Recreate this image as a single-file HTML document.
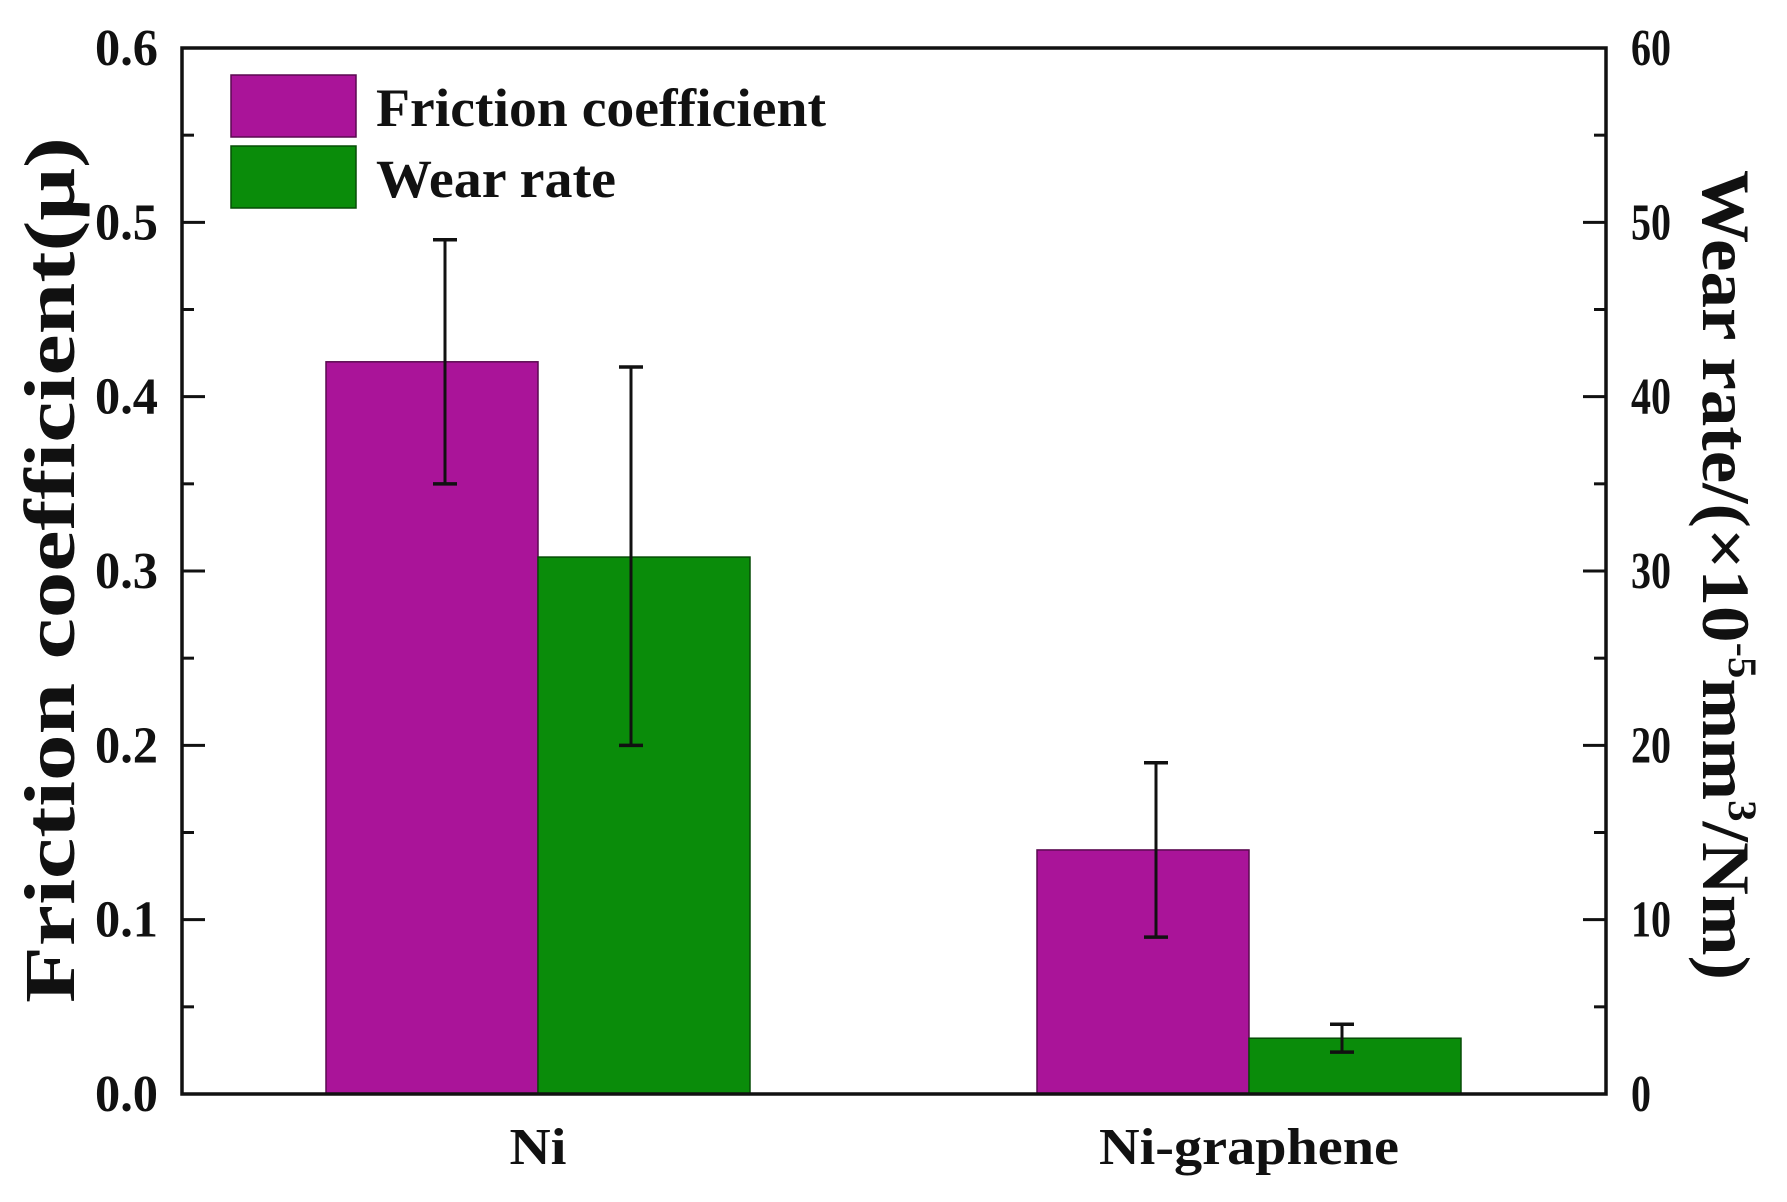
<!DOCTYPE html>
<html><head><meta charset="utf-8"><style>
html,body{margin:0;padding:0;background:#fff;}
body{position:relative;}
svg{display:block;font-family:"Liberation Serif",serif;font-weight:bold;}
</style></head><body>
<svg id="chart" width="1787" height="1202" viewBox="0 0 1787 1202"></svg>
<script>
const categories=["Ni","Ni-graphene"];
const frictionValues=[0.42,0.14];
const frictionErrLow=[0.35,0.09];
const frictionErrHigh=[0.49,0.19];
const wearValues=[30.8,3.2];
const wearErrLow=[20,2.4];
const wearErrHigh=[41.7,4.0];
const leftTicks=[0,0.1,0.2,0.3,0.4,0.5,0.6];
const leftTickLabels=["0.0","0.1","0.2","0.3","0.4","0.5","0.6"];
const rightTicks=[0,10,20,30,40,50,60];

const L=182,R=1606,T=48,B=1094;
const catCenters=[538,1249];
const barW=212;
const yL=v=>B-(v/0.6)*(B-T);
const yR=v=>B-(v/60)*(B-T);
const svg=document.getElementById('chart');
const NS='http://www.w3.org/2000/svg';
function mk(tag,attrs,parent){const e=document.createElementNS(NS,tag);for(const k in attrs)e.setAttribute(k,attrs[k]);(parent||svg).appendChild(e);return e;}

function errbar(x,lo,hi,name){
  const g=mk('g',{});
  
  
  mk('line',{x1:x,x2:x,y1:lo,y2:hi,stroke:'#111','stroke-width':3},g);
  mk('line',{x1:x-12,x2:x+12,y1:lo,y2:lo,stroke:'#111','stroke-width':3.5},g);
  mk('line',{x1:x-12,x2:x+12,y1:hi,y2:hi,stroke:'#111','stroke-width':3.5},g);
}
const xLabelLens=[57,300];
categories.forEach((c,i)=>{
  const cx=catCenters[i];
  const b1=mk('rect',{x:cx-barW,y:yL(frictionValues[i]),width:barW,height:B-yL(frictionValues[i]),fill:'#AA1499',stroke:'#5a0a50','stroke-width':1.5});
  
  
  const b2=mk('rect',{x:cx,y:yR(wearValues[i]),width:barW,height:B-yR(wearValues[i]),fill:'#0A8C0A',stroke:'#064d06','stroke-width':1.5});
  
  
  errbar(cx-barW/2+13,yL(frictionErrLow[i]),yL(frictionErrHigh[i]),'friction-error-'+i);
  errbar(cx+barW/2-13,yR(wearErrLow[i]),yR(wearErrHigh[i]),'wear-error-'+i);
  const t=mk('text',{x:cx-xLabelLens[i]/2,y:1164,'font-size':52,fill:'#111',textLength:xLabelLens[i],lengthAdjust:'spacingAndGlyphs'});
  t.textContent=c;
  
  
});
const frame=mk('rect',{x:L,y:T,width:R-L,height:B-T,fill:'none',stroke:'#111','stroke-width':3.5});


leftTicks.forEach((v,i)=>{
  const y=yL(v);
  mk('line',{x1:L,x2:L+23,y1:y,y2:y,stroke:'#111','stroke-width':3});
  if(i<leftTicks.length-1){const ym=yL(v+0.05);mk('line',{x1:L,x2:L+12,y1:ym,y2:ym,stroke:'#111','stroke-width':3});}
  const t=mk('text',{x:L-24-63,y:y+17,'font-size':52,fill:'#111',textLength:63,lengthAdjust:'spacingAndGlyphs'});
  t.textContent=leftTickLabels[i];
  
  
});
rightTicks.forEach((v,i)=>{
  const y=yR(v);
  mk('line',{x1:R,x2:R-23,y1:y,y2:y,stroke:'#111','stroke-width':3});
  if(i<rightTicks.length-1){const ym=yR(v+5);mk('line',{x1:R,x2:R-12,y1:ym,y2:ym,stroke:'#111','stroke-width':3});}
  const s=String(v);
  const t=mk('text',{x:R+25,y:y+17,'font-size':52,fill:'#111',textLength:s.length*20,lengthAdjust:'spacingAndGlyphs'});
  t.textContent=s;
  
  
});
</script>
<svg width="1787" height="1202" style="position:absolute;left:0;top:0">
  <g font-family="Liberation Serif, serif" font-weight="bold">
    <rect x="231" y="75" width="125" height="62" fill="#AA1499" stroke="#5a0a50" stroke-width="1.5"/>
    <text x="376" y="126" font-size="54" fill="#111" textLength="450" lengthAdjust="spacingAndGlyphs">Friction coefficient</text>
    <rect x="231" y="146" width="125" height="62" fill="#0A8C0A" stroke="#064d06" stroke-width="1.5"/>
    <text x="376" y="197" font-size="54" fill="#111" textLength="240" lengthAdjust="spacingAndGlyphs">Wear rate</text>
  </g>
  <text transform="translate(74,570) rotate(-90)" x="-433" y="0" font-size="72" font-family="Liberation Serif, serif" font-weight="bold" fill="#111" textLength="866" lengthAdjust="spacingAndGlyphs">Friction coefficient(μ)</text>
  <text transform="translate(1703,575) rotate(90)" x="-405" y="0" font-size="68" font-family="Liberation Serif, serif" font-weight="bold" fill="#111" textLength="810" lengthAdjust="spacingAndGlyphs">Wear rate/(×10<tspan font-size="40" dy="-26">-5</tspan><tspan dy="26">mm</tspan><tspan font-size="40" dy="-26">3</tspan><tspan dy="26">/Nm)</tspan></text>
</svg>
</body></html>
